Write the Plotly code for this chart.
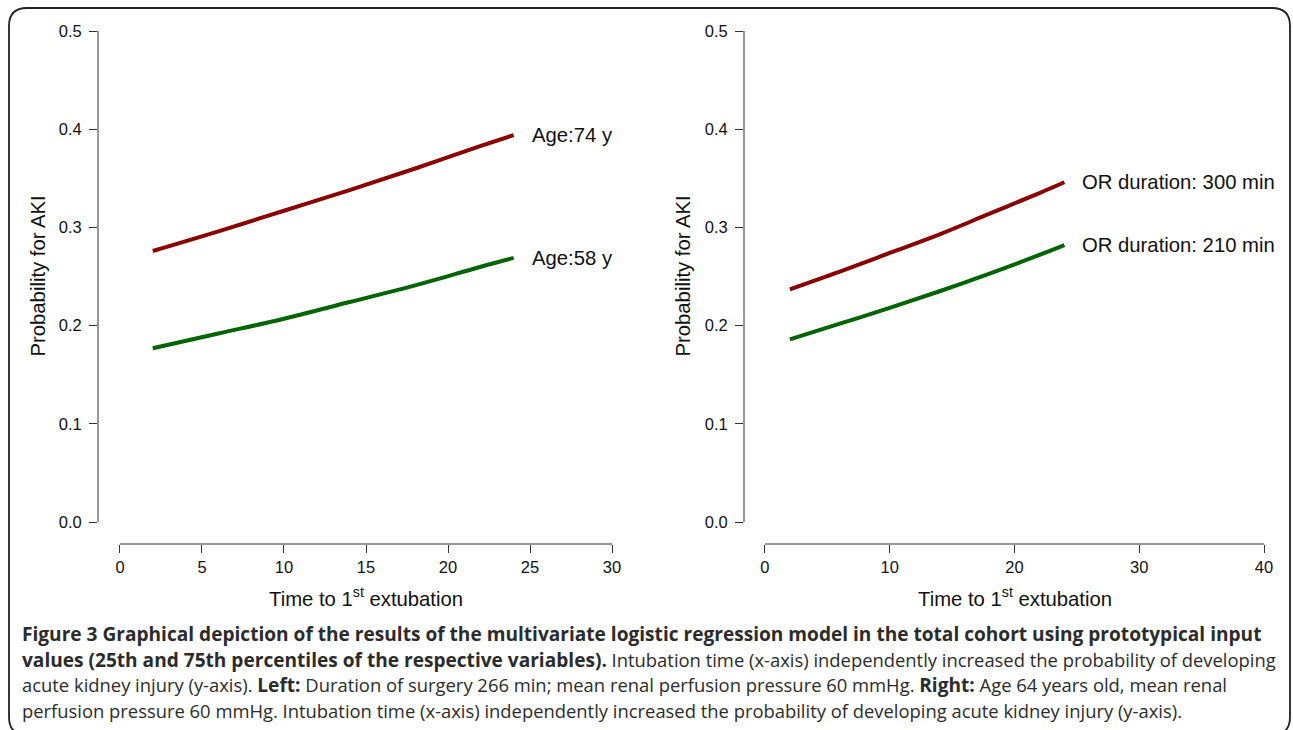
import plotly.graph_objects as go

# ---------------- data ----------------
time_pts = [2, 6, 10, 14, 18, 22, 24]

left_age74 = [0.276, 0.296, 0.317, 0.338, 0.360, 0.383, 0.394]
left_age58 = [0.177, 0.192, 0.207, 0.224, 0.241, 0.260, 0.269]

right_or300 = [0.237, 0.255, 0.274, 0.293, 0.314, 0.335, 0.346]
right_or210 = [0.186, 0.202, 0.218, 0.235, 0.253, 0.272, 0.282]

left_xticks = [0, 5, 10, 15, 20, 25, 30]
right_xticks = [0, 10, 20, 30, 40]
yticks = [0.0, 0.1, 0.2, 0.3, 0.4, 0.5]

label_age74 = "Age:74 y"
label_age58 = "Age:58 y"
label_or300 = "OR duration: 300 min"
label_or210 = "OR duration: 210 min"

B = '<span style="font-size:19.1px"><b>'
E = '</b></span>'
caption_lines = [
    B + "Figure 3 Graphical depiction of the results of the multivariate logistic regression model in the total cohort using prototypical input" + E,
    B + "values (25th and 75th percentiles of the respective variables)." + E + " Intubation time (x-axis) independently increased the probability of developing",
    "acute kidney injury (y-axis). " + B + "Left:" + E + " Duration of surgery 266 min; mean renal perfusion pressure 60 mmHg. " + B + "Right:" + E + " Age 64 years old, mean renal",
    "perfusion pressure 60 mmHg. Intubation time (x-axis) independently increased the probability of developing acute kidney injury (y-axis).",
]

# ---------------- style ----------------
W, H = 1293, 730
RED = "#8b0000"
GREEN = "#006400"
AX = "#333333"
FONT = "Liberation Sans, Arial, sans-serif"

fig = go.Figure()

for xs, ys, col, xa, ya in [(time_pts, left_age74, RED, "x", "y"),
                            (time_pts, left_age58, GREEN, "x", "y"),
                            (time_pts, right_or300, RED, "x2", "y2"),
                            (time_pts, right_or210, GREEN, "x2", "y2")]:
    fig.add_trace(go.Scatter(x=xs, y=ys, mode="lines",
                             line=dict(color=col, width=4, shape="spline", smoothing=1.0),
                             xaxis=xa, yaxis=ya, showlegend=False, hoverinfo="skip"))

ydom = [(H - 544) / H, (H - 11.4) / H]
yrange = [-0.0224, 0.52]

common_axis = dict(showgrid=False, zeroline=False, showline=False,
                   ticks="outside", ticklen=8, tickwidth=1, tickcolor=AX,
                   tickfont=dict(family=FONT, size=16.5, color="#111111"))

fig.update_layout(
    width=W, height=H,
    margin=dict(l=0, r=0, t=0, b=0),
    paper_bgcolor="white", plot_bgcolor="white",
    xaxis=dict(domain=[98 / W, 631.7 / W], range=[-1.34, 31.2],
               tickmode="array", tickvals=left_xticks,
               ticktext=[str(v) for v in left_xticks], anchor="y", **common_axis),
    yaxis=dict(domain=ydom, range=yrange, tickmode="array", tickvals=yticks,
               ticktext=[f"{v:.1f}" for v in yticks], anchor="x",
               ticklabelstandoff=4, **common_axis),
    xaxis2=dict(domain=[744 / W, 1284 / W], range=[-1.68, 41.6],
                tickmode="array", tickvals=right_xticks,
                ticktext=[str(v) for v in right_xticks], anchor="y2", **common_axis),
    yaxis2=dict(domain=ydom, range=yrange, tickmode="array", tickvals=yticks,
                ticktext=[f"{v:.1f}" for v in yticks], anchor="x2",
                ticklabelstandoff=4, **common_axis),
)

shapes = []
# R-style axis lines spanning only the tick range
for xa, ya, xt in [("x", "y", left_xticks), ("x2", "y2", right_xticks)]:
    shapes.append(dict(type="line", xref=xa, yref=f"{ya} domain",
                       x0=xt[0], x1=xt[-1], y0=0, y1=0,
                       line=dict(color=AX, width=1)))
    shapes.append(dict(type="line", xref=f"{xa} domain", yref=ya,
                       x0=0, x1=0, y0=yticks[0], y1=yticks[-1],
                       line=dict(color=AX, width=1)))

# rounded frame around the whole figure
x0, x1 = 9 / W, 1290 / W
y0, y1 = 1 - 8 / H, 1 - 735 / H
rx, ry = 18 / W, 18 / H
path = (f"M {x0+rx},{y0} L {x1-rx},{y0} Q {x1},{y0} {x1},{y0-ry} "
        f"L {x1},{y1+ry} Q {x1},{y1} {x1-rx},{y1} L {x0+rx},{y1} "
        f"Q {x0},{y1} {x0},{y1+ry} L {x0},{y0-ry} Q {x0},{y0} {x0+rx},{y0} Z")
shapes.append(dict(type="path", xref="paper", yref="paper", path=path,
                   line=dict(color="#222222", width=1.8)))
fig.update_layout(shapes=shapes)

ann = []
lab_font = dict(family=FONT, size=20.3, color="#111111")
for xa, ya, ys, lab in [("x", "y", left_age74, label_age74), ("x", "y", left_age58, label_age58),
                        ("x2", "y2", right_or300, label_or300), ("x2", "y2", right_or210, label_or210)]:
    ann.append(dict(x=time_pts[-1], y=ys[-1], xref=xa, yref=ya, text=lab,
                    xanchor="left", yanchor="middle", xshift=16, showarrow=False, font=lab_font))

# axis titles
ann.append(dict(x=15, y=1 - 597 / H, xref="x", yref="paper",
                text="Time to 1<sup>st</sup> extubation", showarrow=False,
                xanchor="center", yanchor="middle", font=lab_font))
ann.append(dict(x=20, y=1 - 597 / H, xref="x2", yref="paper",
                text="Time to 1<sup>st</sup> extubation", showarrow=False,
                xanchor="center", yanchor="middle", font=lab_font))
ann.append(dict(x=38 / W, y=0.25, xref="paper", yref="y", text="Probability for AKI",
                textangle=-90, showarrow=False, xanchor="center", yanchor="middle", font=lab_font))
ann.append(dict(x=683 / W, y=0.25, xref="paper", yref="y2", text="Probability for AKI",
                textangle=-90, showarrow=False, xanchor="center", yanchor="middle", font=lab_font))

# caption
cap_y = [634, 659.5, 685, 710.5]
for line, yy in zip(caption_lines, cap_y):
    ann.append(dict(x=20 / W, y=1 - yy / H, xref="paper", yref="paper", text=line,
                    showarrow=False, xanchor="left", yanchor="middle", align="left",
                    font=dict(family="Open Sans, sans-serif", size=18.4, color="#2b2b2b")))

fig.update_layout(annotations=ann)

fig.write_html("out.html", config={"displayModeBar": False},
               post_script="document.body.style.margin='0';document.body.style.overflow='hidden';")
